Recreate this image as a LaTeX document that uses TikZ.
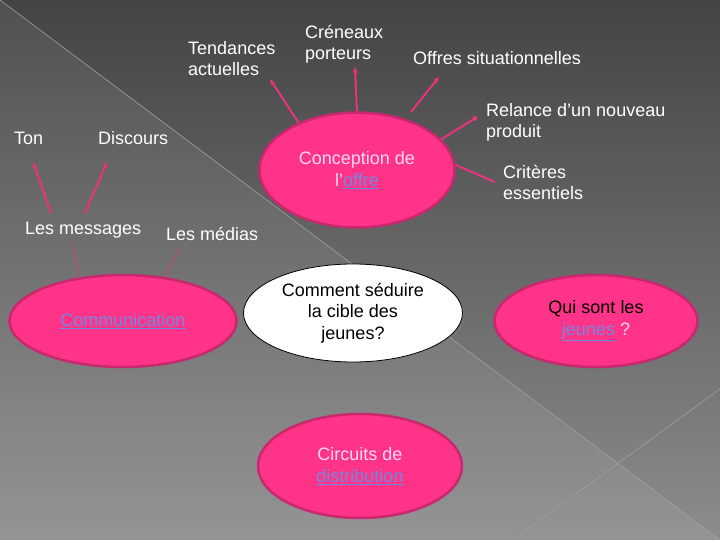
\documentclass[tikz,border=0pt]{standalone}
\usepackage{fontspec}
\setmainfont{Liberation Sans}
\usepackage{tikz}
\usetikzlibrary{
    arrows.meta,
    shapes.geometric,
    shadows
}

\definecolor{bgtop}{HTML}{444444}
\definecolor{bgbot}{HTML}{8C8C8C}
\definecolor{rose}{HTML}{FF3388}
\definecolor{roseedge}{HTML}{C8286E}
\definecolor{roseline}{HTML}{E8337F}
\definecolor{lien}{HTML}{7088E0}
\definecolor{pale}{HTML}{FFD8F2}

\tikzset{
    bulle/.style={ellipse, draw=roseedge, line width=2.5pt, fill=rose,
        inner sep=0pt, align=center, text=pale},
    blanche/.style={ellipse, draw=black, line width=0.8pt, fill=white,
        inner sep=0pt, align=center, text=black,
        drop shadow={shadow xshift=2pt, shadow yshift=-2pt, opacity=0.35}},
    etiquette/.style={anchor=base west, align=left, text=white, inner sep=0pt},
    fleche/.style={draw=roseline, line width=2pt, -{Stealth[length=6pt,width=5pt]}},
    pointe/.style={draw=roseline, line width=2pt, -{Circle[length=5pt]}},
    trait/.style={draw=roseline, line width=2pt},
    faible/.style={draw=roseline, line width=1.2pt, opacity=0.6}
}

\begin{document}
\begin{tikzpicture}[x=1pt, y=-1pt, font=\fontsize{18}{21.5}\selectfont]

% Background
\useasboundingbox (0,0) rectangle (720,540);
\shade[top color=bgtop, bottom color=bgbot] (0,0) rectangle (720,540);
\fill[white, opacity=0.07] (0,0) -- (720,540) -- (0,540) -- cycle;
\draw[gray!75, line width=0.6pt] (0,0) -- (720,540);
\draw[gray!75, line width=0.6pt] (720,389) -- (513,540);

% Ellipses
\node[bulle, minimum width=195pt, minimum height=115pt] (conc) at (357,170)
    {Conception de\\l’\textcolor{lien}{\underline{offre}}};
\node[bulle, minimum width=227pt, minimum height=92pt] (comm) at (123,321)
    {\textcolor{lien}{\underline{Communication}}};
\node[blanche, minimum width=219pt, minimum height=98pt] (cible) at (353,313)
    {Comment séduire\\la cible des\\jeunes?};
\node[bulle, minimum width=203pt, minimum height=92pt] (qui) at (596,321)
    {\textcolor{black}{Qui sont les}\\\textcolor{lien}{\underline{jeunes}} ?};
\node[bulle, minimum width=204pt, minimum height=104pt] (circ) at (360,466)
    {Circuits de\\\textcolor{lien}{\underline{distribution}}};

% Labels (base = last line)
\node[etiquette] (tend) at (188,76) {Tendances\\actuelles};
\node[etiquette] (cren) at (305,60) {Créneaux\\porteurs};
\node[etiquette] (offr) at (413,64.5) {Offres situationnelles};
\node[etiquette] (rel) at (486,138) {Relance d’un nouveau\\produit};
\node[etiquette] (crit) at (503,200) {Critères\\essentiels};
\node[etiquette] (ton) at (14,144.5) {Ton};
\node[etiquette] (disc) at (98,144.5) {Discours};
\node[etiquette] (mess) at (25,234.5) {Les messages};
\node[etiquette] (med) at (166,240.5) {Les médias};

% Free ends
\coordinate (tendA) at (270,79);
\coordinate (crenA) at (355,67);
\coordinate (offrA) at (439,77);
\coordinate (offrB) at (411,112);
\coordinate (relA) at (477,117);
\coordinate (critA) at (495,182);
\coordinate (tonA) at (33,162);
\coordinate (tonB) at (51,213);
\coordinate (discA) at (107,162);
\coordinate (discB) at (85,213);
\coordinate (messA) at (73,242);
\coordinate (medA) at (180,248);

% Connectors
\draw[fleche] (conc.141) -- (tendA);
\draw[fleche] (conc.90) -- (crenA);
\draw[fleche] (offrB) -- (offrA);
\draw[pointe] (conc.20) -- (relA);
\draw[trait] (conc.3) -- (critA);
\draw[fleche] (tonB) -- (tonA);
\draw[fleche] (discB) -- (discA);
\draw[faible] (messA) -- (comm.136);
\draw[faible] (medA) -- (comm.47);

\end{tikzpicture}
\end{document}
